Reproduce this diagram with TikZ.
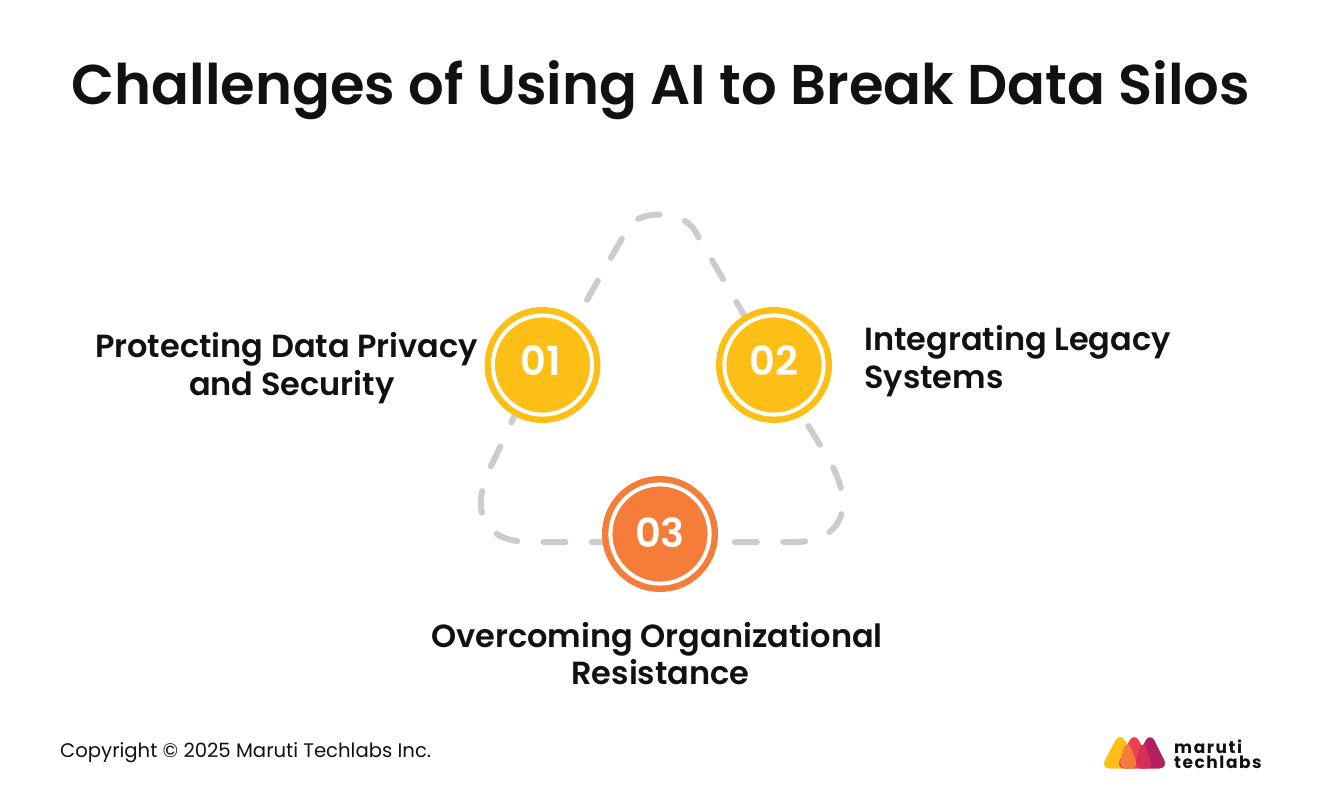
\documentclass[tikz,border=0pt]{standalone}
\usepackage{fontspec}
\setmainfont{Poppins}
\newfontfamily\semifont{Poppins SemiBold}
\newfontfamily\logofont[LetterSpace=9]{Poppins}
\usetikzlibrary{positioning, backgrounds}
\definecolor{amber}{HTML}{FDBE16}
\definecolor{coral}{HTML}{F57C39}
\definecolor{berry}{HTML}{B5205F}
\definecolor{rose}{HTML}{E8434F}
\definecolor{wine}{HTML}{D42F58}
\definecolor{dashgray}{HTML}{CCCCCC}
\definecolor{inkblack}{HTML}{111111}
\tikzstyle{badge} = [
  circle, minimum size = 99.2, inner sep = 0, outer sep = 8.4,
  line width = 6.4, double = white, double distance = 4, text depth = 8,
  text = white, font = \semifont\fontsize{40}{40}\selectfont
]
\tikzstyle{caption} = [
  text = inkblack, inner sep = 0,
  font = \semifont\fontsize{32}{37.5}\selectfont
]
\tikzstyle{loop} = [
  draw = dashgray, line width = 6, line cap = round,
  dash pattern = on 22 off 26.3
]
\tikzstyle{drop} = [line width = 3, line join = round, rounded corners = 7]

\begin{document}
\begin{tikzpicture}[x = 1pt, y = -1pt]
    \useasboundingbox (0, 0) rectangle (1321, 798);

    \node [text = inkblack, font = \semifont\fontsize{56}{56}\selectfont] (title) at (661, 90) {Challenges of Using AI to Break Data Silos};

    \node [badge, draw = amber, fill = amber] (n-1) at (542.5, 365) {\hspace*{-3pt}01};
    \node [badge, draw = amber, fill = amber] (n-2) at (774, 365) {02};
    \node [badge, draw = coral, fill = coral, text depth = 3] (n-3) at (660, 534) {03};

    \node [caption, align = center, left = 6pt of n-1, yshift = -3] (cap-1) {Protecting Data Privacy\\\hspace*{10pt}and Security};
    \node [caption, align = left, right = 32pt of n-2, yshift = 4] (cap-2) {Integrating Legacy\\Systems};
    \node [caption, align = center, below = 30pt of n-3, xshift = -3] (cap-3) {Overcoming Organizational\\\hspace*{7pt}Resistance};

    \begin{scope}[on background layer]
      \draw [loop, dash phase = 27.3] (n-1.54) -- (628, 228) .. controls (638, 209.5) and (683, 209.5) .. (695, 231) -- (n-2.121);
      \draw [loop, dash phase = 36.3] (n-2.299) -- (828, 458) .. controls (860.5, 514) and (835, 542) .. (795, 542) -- (n-3.352);
      \draw [loop, dash phase = 11.2] (n-3.188) -- (530, 542) .. controls (485, 542) and (466, 512) .. (494, 460) -- (n-1.241);
    \end{scope}

    % logo
    \draw [drop, draw = amber, fill = amber] (1120, 735) -- (1139, 767) -- (1103, 767) -- cycle;
    \draw [drop, draw = berry, fill = berry] (1150, 735) -- (1166, 767) -- (1134, 767) -- cycle;
    \draw [drop, draw = rose, fill = rose] (1134, 735) -- (1152, 767) -- (1118, 767) -- cycle;
    \draw [drop, draw = coral, fill = coral] (1127, 742) -- (1137, 767) -- (1120, 767) -- cycle;
    \draw [drop, draw = wine, fill = wine] (1143, 742) -- (1151, 767) -- (1136, 767) -- cycle;

    \node [anchor = west, inner sep = 0, align = left, text = inkblack, font = \logofont\bfseries\fontsize{17}{15}\selectfont] (logo) at (1174, 754) {maruti\\techlabs};
    \node [anchor = west, inner sep = 0, text = inkblack, font = \fontsize{19.65}{20}\selectfont] (copyright) at (60, 753) {Copyright © 2025 Maruti Techlabs Inc.};
  \end{tikzpicture}
\end{document}
